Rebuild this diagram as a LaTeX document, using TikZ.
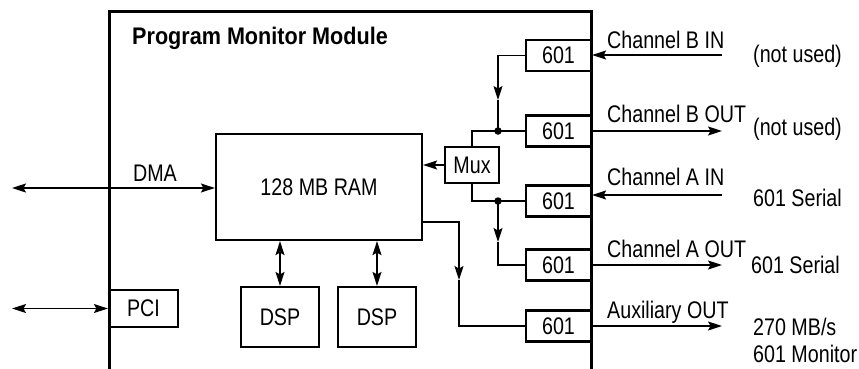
\documentclass[tikz,border=0pt]{standalone}
\usepackage{fontspec}
\setmainfont{Liberation Sans}[FakeStretch=0.82]
\newfontfamily\titlefont{Liberation Sans}[FakeStretch=0.90]
\usetikzlibrary{arrows.meta}
\begin{document}
\begin{tikzpicture}[x=1pt,y=-1pt,
  txt/.style={font=\fontsize{24}{28}\selectfont, inner sep=0pt},
  box/.style={draw, line width=2.2pt, txt},
  pbox/.style={box, minimum width=65, minimum height=31},
  conn/.style={line width=1.3pt},
  arr/.style={conn, -{Stealth[length=14pt,width=9pt,inset=2.5pt]}},
  darr/.style={conn, {Stealth[length=14pt,width=9pt,inset=2.5pt]}-{Stealth[length=14pt,width=9pt,inset=2.5pt]}},
  dot/.style={circle, fill, inner sep=0pt, minimum size=7.5pt}]
\useasboundingbox (0,0) rectangle (859,368);
% module frame
\draw[line width=3pt] (109,372) -- (109,11) -- (591,11) -- (591,372);
\node[anchor=base west, inner sep=0pt, font=\titlefont\bfseries\fontsize{24}{28}\selectfont] (title) at (132,44) {Program Monitor Module};
% boxes
\node[box, minimum width=206, minimum height=106] (ram) at (319,187) {128 MB RAM};
\node[box, minimum width=54, minimum height=36] (mux) at (472,165) {Mux};
\node[box, minimum width=69, minimum height=37] (pci) at (143.5,308.5) {PCI};
\node[box, minimum width=78, minimum height=60] (dspa) at (280,317) {DSP};
\node[box, minimum width=78, minimum height=60] (dspb) at (377,317) {DSP};
\node[pbox] (ba) at (558.5,55.5) {601};
\node[pbox] (bb) at (558.5,131) {601};
\node[pbox] (bc) at (558.5,201) {601};
\node[pbox] (bd) at (558.5,265) {601};
\node[pbox] (be) at (558.5,326) {601};
% left connectors
\coordinate (dmaL) at (12,188);
\draw[darr] (dmaL) -- (dmaL -| ram.west);
\node[txt, anchor=base] (dma) at (155,181) {DMA};
\coordinate (pciL) at (12,308.5);
\draw[darr] (pciL) -- (pci.west);
\draw[darr] (ram.south -| dspa.north) -- (dspa.north);
\draw[darr] (ram.south -| dspb.north) -- (dspb.north);
\draw[arr] (mux.west) -- (mux.west -| ram.east);
% internal routing
\node[dot] (dotB) at (498,131) {};
\node[dot] (dotA) at (498,201) {};
\coordinate (arrB) at (498,100);
\coordinate (arrA) at (498,242);
\draw[arr] (ba.west) -| (arrB);
\draw[conn] (arrB) -- (dotB.center);
\draw[conn] (dotB.center) -- (bb.west);
\draw[conn] (dotB.center) -| (mux.north);
\draw[conn] (mux.south) |- (dotA.center) -- (bc.west);
\draw[arr] (dotA.center) -- (arrA);
\draw[conn] (arrA) |- (bd.west);
\coordinate (ramR) at (ram.east |- 0,222);
\coordinate (ramArr) at (459,280);
\draw[arr] (ramR) -| (ramArr);
\draw[conn] (ramArr) |- (be.west);
% right connectors
\coordinate (inA) at (722,55);
\draw[arr] (inA) -- (inA -| ba.east);
\coordinate (outB) at (722,131);
\draw[arr] (bb.east) -- (outB);
\coordinate (inC) at (722,195);
\draw[arr] (inC) -- (inC -| bc.east);
\coordinate (outD) at (722,265);
\draw[arr] (bd.east) -- (outD);
\coordinate (outE) at (722,326);
\draw[arr] (be.east) -- (outE);
% labels
\node[txt, anchor=base west] (lba) at (607,48) {Channel B IN};
\node[txt, anchor=base west] (lbb) at (607,122) {Channel B OUT};
\node[txt, anchor=base west] (lbc) at (607,185) {Channel A IN};
\node[txt, anchor=base west] (lbd) at (607,257) {Channel A OUT};
\node[txt, anchor=base west] (lbe) at (607,318) {Auxiliary OUT};
\node[txt, anchor=base west] (ra) at (753,62) {(not used)};
\node[txt, anchor=base west] (rb) at (753,135) {(not used)};
\node[txt, anchor=base west] (rc) at (753,206) {601 Serial};
\node[txt, anchor=base west] (rd) at (751,273) {601 Serial};
\node[txt, anchor=base west] (re) at (753,335) {270 MB/s};
\node[txt, anchor=base west] (rf) at (753,362) {601 Monitor};
\end{tikzpicture}
\end{document}
